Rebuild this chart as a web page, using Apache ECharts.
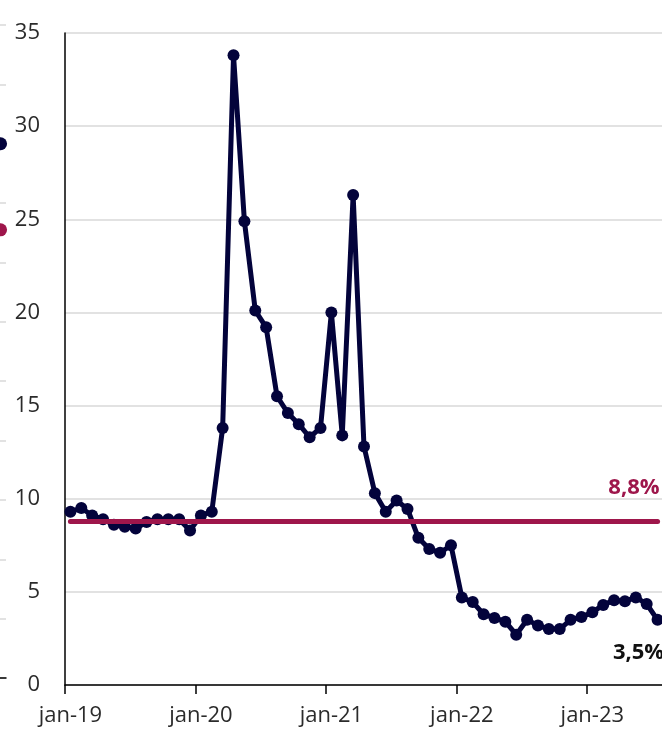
<!DOCTYPE html>
<html>
<head>
<meta charset="utf-8">
<script src="https://cdn.jsdelivr.net/npm/echarts@6/dist/echarts.min.js"></script>
<style>
  html, body { margin: 0; padding: 0; background: #ffffff; }
  #chart { width: 662px; height: 731px; }
</style>
</head>
<body>
<div id="chart"></div>
<script>
// Monthly categories, jan-19 .. jul-23
const months = ['jan', 'feb', 'mar', 'apr', 'mai', 'jun', 'jul', 'aug', 'sep', 'okt', 'nov', 'des'];
const years = ['19', '20', '21', '22', '23'];
const categories = [];
years.forEach(function (y) { months.forEach(function (m) { categories.push(m + '-' + y); }); });
categories.length = 55;

// Unemployment rate, percent
const rate = [
  9.3, 9.5, 9.1, 8.9, 8.6, 8.5, 8.4, 8.75, 8.9, 8.9, 8.9, 8.3,
  9.1, 9.3, 13.8, 33.8, 24.9, 20.1, 19.2, 15.5, 14.6, 14.0, 13.3, 13.8,
  20.0, 13.4, 26.3, 12.8, 10.3, 9.3, 9.9, 9.45, 7.9, 7.3, 7.1, 7.5,
  4.7, 4.45, 3.8, 3.6, 3.4, 2.7, 3.5, 3.2, 3.0, 3.0, 3.5, 3.65,
  3.9, 4.3, 4.55, 4.5, 4.7, 4.35, 3.5
];

// Average over the period
const average = 8.8;

// Last values of the neighbouring panel (its right edge shows at the left border)
const neighbourCategories = categories.slice();
const neighbourNavyLast = 9.0;
const neighbourRedLast = 7.55;

const yTicks = { min: 0, max: 35, interval: 5 };

const NAVY = '#03033b';
const CRIMSON = '#9e164b';
const FONT = '"Open Sans", "Noto Sans", sans-serif';

const chart = echarts.init(document.getElementById('chart'), null, { renderer: 'canvas' });

const fmt = function (v) { return v.toFixed(1).replace('.', ',') + '%'; };

const lastIdx = rate.length - 1;
const rateData = rate.map(function (v, i) {
  if (i !== lastIdx) return v;
  return {
    value: v,
    label: {
      show: true,
      position: 'bottom',
      formatter: fmt(v),
      fontFamily: FONT,
      fontWeight: 'bold',
      fontSize: 22,
      color: '#111111',
      offset: [-19, 11]
    }
  };
});

function lastOnly(n, v) {
  const arr = [];
  for (let i = 0; i < n; i++) arr.push(i === n - 1 ? v : null);
  return arr;
}

const isJan = function (idx) { return idx % 12 === 0; };

chart.setOption({
  animation: false,
  backgroundColor: '#ffffff',
  grid: [
    { left: 65, right: -1, top: 33, bottom: 46, containLabel: false, outerBoundsMode: 'none' },
    { left: -592, width: 598, top: 25, bottom: 53, containLabel: false, outerBoundsMode: 'none' }
  ],
  xAxis: [
    {
      gridIndex: 0,
      type: 'category',
      data: categories,
      boundaryGap: true,
      axisLine: { lineStyle: { color: '#000000', width: 1.5 } },
      axisTick: { show: true, interval: isJan, length: 9, lineStyle: { color: '#000000', width: 1.5 } },
      axisLabel: {
        interval: isJan,
        fontFamily: FONT,
        fontSize: 22,
        color: '#2b2b2b',
        margin: 20
      },
      splitLine: { show: false }
    },
    {
      gridIndex: 1,
      type: 'category',
      data: neighbourCategories,
      boundaryGap: true,
      axisLine: { lineStyle: { color: '#000000', width: 1.5 } },
      axisTick: { show: false },
      axisLabel: { show: false }
    }
  ],
  yAxis: [
    {
      gridIndex: 0,
      type: 'value',
      min: yTicks.min,
      max: yTicks.max,
      interval: yTicks.interval,
      axisLine: { show: true, lineStyle: { color: '#000000', width: 1.5 } },
      axisTick: { show: false },
      axisLabel: { fontFamily: FONT, fontSize: 22, color: '#2b2b2b', margin: 25 },
      splitLine: { show: true, lineStyle: { color: '#d9d9d9', width: 1.5 } }
    },
    {
      gridIndex: 1,
      type: 'value',
      min: 0,
      max: 11,
      interval: 1,
      axisLine: { show: false },
      axisTick: { show: false },
      axisLabel: { show: false },
      splitLine: { show: true, lineStyle: { color: '#d9d9d9', width: 1.5 } }
    }
  ],
  series: [
    {
      name: 'Snitt',
      type: 'line',
      xAxisIndex: 0,
      yAxisIndex: 0,
      data: [],
      z: 1,
      markLine: {
        silent: true,
        symbol: ['none', 'none'],
        lineStyle: { color: CRIMSON, width: 5, type: 'solid', cap: 'round' },
        label: {
          show: true,
          position: 'insideEndTop',
          formatter: fmt(average),
          fontFamily: FONT,
          fontWeight: 'bold',
          fontSize: 22,
          color: CRIMSON,
          distance: [-2, 22]
        },
        emphasis: { disabled: true },
        data: [[
          { coord: [categories[0], average] },
          { coord: [categories[lastIdx], average] }
        ]]
      }
    },
    {
      name: 'Ledighet',
      type: 'line',
      xAxisIndex: 0,
      yAxisIndex: 0,
      data: rateData,
      z: 3,
      symbol: 'circle',
      symbolSize: 12,
      showAllSymbol: true,
      lineStyle: { color: NAVY, width: 5 },
      itemStyle: { color: NAVY },
      emphasis: { disabled: true }
    },
    {
      type: 'line',
      xAxisIndex: 1,
      yAxisIndex: 1,
      data: lastOnly(neighbourCategories.length, neighbourNavyLast),
      symbol: 'circle',
      symbolSize: 13,
      showAllSymbol: true,
      lineStyle: { color: NAVY, width: 5 },
      itemStyle: { color: NAVY }
    },
    {
      type: 'line',
      xAxisIndex: 1,
      yAxisIndex: 1,
      data: lastOnly(neighbourCategories.length, neighbourRedLast),
      symbol: 'circle',
      symbolSize: 13,
      showAllSymbol: true,
      lineStyle: { color: CRIMSON, width: 5 },
      itemStyle: { color: CRIMSON }
    }
  ]
});
</script>
</body>
</html>
